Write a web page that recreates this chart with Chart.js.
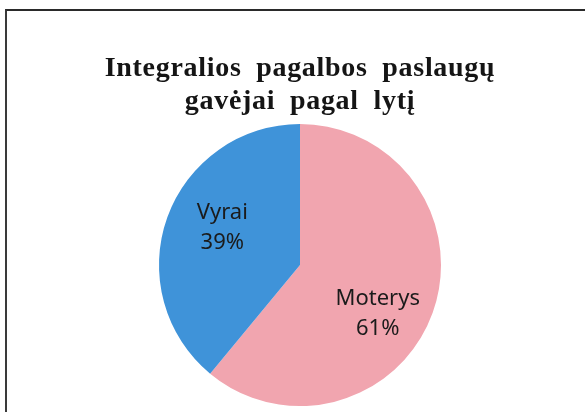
<!DOCTYPE html>
<html lang="lt">
<head>
<meta charset="UTF-8">
<title>Integralios pagalbos paslaugų gavėjai pagal lytį</title>
<script src="https://cdn.jsdelivr.net/npm/chart.js@4.4.1/dist/chart.umd.min.js"></script>
<style>
    html, body { margin: 0; padding: 0; background: #fff; }
    #wrap { position: relative; width: 585px; height: 412px; overflow: hidden; }
    #frame {
        position: absolute; left: 5px; top: 9px; width: 700px; height: 600px;
        border-left: 2px solid #3a3a3a; border-top: 2px solid #2a2a2a;
    }
    #genderChart { position: absolute; left: 0; top: 0; }
</style>
</head>
<body>
<div id="wrap">
    <div id="frame"></div>
    <canvas id="genderChart" width="585" height="412"></canvas>
</div>
<script>
// chart data
const categories = ['Moterys', 'Vyrai'];
const shares = [61, 39];
const sliceColors = ['#f1a5af', '#3f93d9'];
const titleLines = ['Integralios pagalbos paslaugų', 'gavėjai pagal lytį'];

// draws "label / NN%" inside each slice
const sliceLabels = {
    id: 'sliceLabels',
    afterDatasetsDraw(chart) {
        const ctx = chart.ctx;
        const arcs = chart.getDatasetMeta(0).data;
        ctx.save();
        ctx.letterSpacing = '0px';
        ctx.wordSpacing = '0px';
        ctx.font = '22px "Noto Sans", sans-serif';
        ctx.fillStyle = '#1b1b1b';
        ctx.textAlign = 'center';
        ctx.textBaseline = 'middle';
        arcs.forEach((arc, i) => {
            const p = arc.getProps(['x', 'y', 'startAngle', 'endAngle', 'outerRadius'], true);
            const ang = (p.startAngle + p.endAngle) / 2 + 0.16;
            const r = p.outerRadius * 0.63;
            const x = p.x + Math.cos(ang) * r;
            const y = p.y + Math.sin(ang) * r;
            ctx.fillText(categories[i], x, y - 9);
            ctx.fillText(shares[i] + '%', x, y + 21);
        });
        ctx.restore();
    }
};

// slightly looser title spacing like the original
const titleSpacing = {
    id: 'titleSpacing',
    beforeDraw(chart) {
        chart.ctx.letterSpacing = '0.7px';
        chart.ctx.wordSpacing = '7px';
    }
};

document.addEventListener('DOMContentLoaded', () => {
    const ctx = document.getElementById('genderChart').getContext('2d');
    new Chart(ctx, {
        type: 'pie',
        data: {
            labels: categories,
            datasets: [{
                data: shares,
                backgroundColor: sliceColors,
                borderWidth: 0,
                radius: 141
            }]
        },
        options: {
            responsive: false,
            animation: false,
            layout: {
                padding: { top: 0, bottom: 0, left: 15, right: 0 }
            },
            plugins: {
                legend: { display: false },
                tooltip: { enabled: false },
                title: {
                    display: true,
                    text: titleLines,
                    color: '#151515',
                    font: { family: '"Liberation Serif", "Times New Roman", serif', size: 28, weight: 'bold', lineHeight: 1.18 },
                    padding: { top: 52, bottom: 0 }
                }
            }
        },
        plugins: [titleSpacing, sliceLabels]
    });
});
</script>
</body>
</html>
